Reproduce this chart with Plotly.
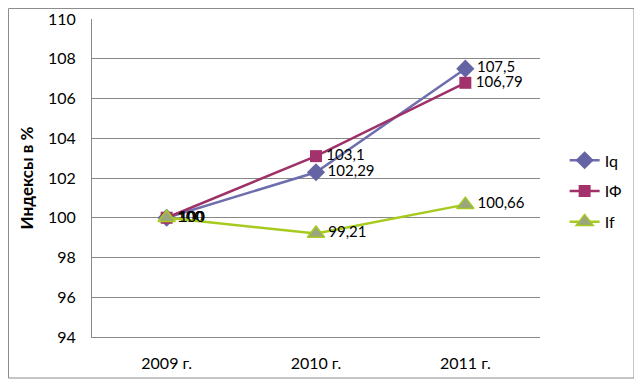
import plotly.graph_objects as go

categories = ["2009 г.", "2010 г.", "2011 г."]
iq = [100, 102.29, 107.5]
iphi = [100, 103.1, 106.79]
i_f = [100, 99.21, 100.66]
series_names = ["Iq", "IФ", "If"]
y_ticks = [94, 96, 98, 100, 102, 104, 106, 108, 110]

def fmt(v):
    return "\u2009" + ("%g" % v).replace(".", ",")

# page body has an 8px margin, so the figure is sized to fit the window
W, H = 634, 377
L, R, T, B = 84, 102, 11, 48

fig = go.Figure()
styles = [
    (iq, "#6E6EAE", dict(symbol="diamond", size=14, color="#6464A4", line=dict(width=0))),
    (iphi, "#9E3268", dict(symbol="square", size=12, color="#A3316B", line=dict(width=0))),
    (i_f, "#A6CB1E", dict(symbol="triangle-up", size=15, color="#9AA67E", line=dict(width=1.5, color="#A6CB1E"))),
]
for i, ((vals, lc, mk), name) in enumerate(zip(styles, series_names)):
    fig.add_trace(go.Scatter(
        x=categories, y=vals, name=name, mode="lines+markers+text",
        legendgroup="g%d" % i,
        line=dict(color=lc, width=2.5), marker=mk,
        text=[fmt(v) for v in vals], textposition="middle right",
        textfont=dict(family="Lato", size=15, color="#000000"),
        cliponaxis=False,
    ))

fig.update_layout(
    width=W, height=H,
    margin=dict(l=L, r=R, t=T, b=B, autoexpand=False),
    paper_bgcolor="white", plot_bgcolor="white",
    font=dict(family="Lato", size=16, color="#000000"),
    showlegend=True,
    legend=dict(x=1.055, y=0.458, xanchor="left", yanchor="middle",
                font=dict(family="Lato", size=16), traceorder="grouped",
                tracegroupgap=7, bgcolor="rgba(0,0,0,0)"),
    xaxis=dict(type="category", range=[-0.5, 2.5], showgrid=False, automargin=False,
               showline=True, linecolor="#888888", linewidth=1,
               ticks="", ticklabelstandoff=12, tickfont=dict(size=16)),
    yaxis=dict(range=[94, 110], tickvals=y_ticks, showgrid=True, automargin=False,
               gridcolor="#888888", gridwidth=1, zeroline=False,
               showline=True, linecolor="#888888", linewidth=1,
               ticks="", ticklabelstandoff=12, tickfont=dict(size=16),
               title=dict(text="<b>Индексы в %</b>", font=dict(family="Lato", size=17), standoff=10)),
)

pw, ph = W - L - R, H - T - B
fig.add_shape(type="rect", xref="paper", yref="paper",
              x0=(0.5 - L) / pw, x1=(626 - L) / pw,
              y0=(H - B - 370) / ph, y1=(H - B - 0.5) / ph,
              line=dict(color="#8C8C8C", width=1), fillcolor="rgba(0,0,0,0)", layer="above")

fig.write_html("out.html")
